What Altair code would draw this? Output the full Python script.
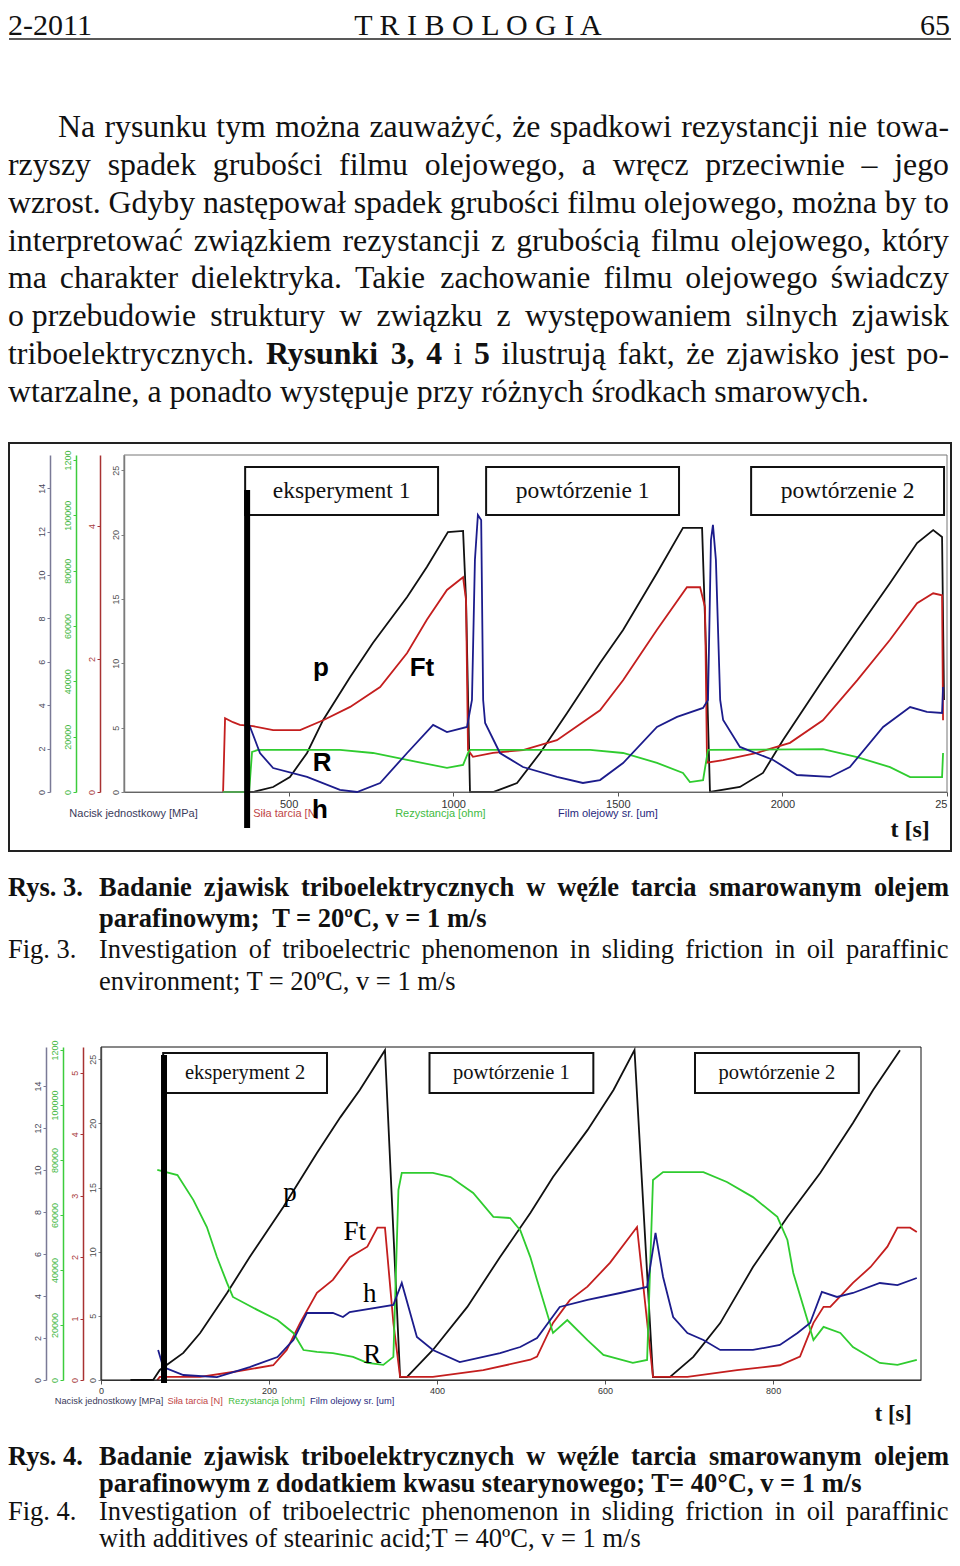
import altair as alt
import pandas as pd

# ------------------------------------------------------------------ page text
HEADER = ["2-2011", "T R I B O L O G I A", "65"]

PARAGRAPH = [
    "Na rysunku tym można zauważyć, że spadkowi rezystancji nie towa-",
    "rzyszy spadek grubości filmu olejowego, a wręcz przeciwnie – jego",
    "wzrost. Gdyby następował spadek grubości filmu olejowego, można by to",
    "interpretować związkiem rezystancji z grubością filmu olejowego, który",
    "ma charakter dielektryka. Takie zachowanie filmu olejowego świadczy",
    "o\u00a0przebudowie struktury w związku z występowaniem silnych zjawisk",
    "triboelektrycznych. **Rysunki 3, 4** i **5** ilustrują fakt, że zjawisko jest po-",
    "wtarzalne, a ponadto występuje przy różnych środkach smarowych.",
]

CAPTION3_LABELS = ["Rys. 3.", "Fig. 3."]
CAPTION3_PL = ["Badanie zjawisk triboelektrycznych w węźle tarcia smarowanym olejem",
               "parafinowym;\u00a0 T = 20ºC, v = 1 m/s"]
CAPTION3_EN = ["Investigation of triboelectric phenomenon in sliding friction in oil paraffinic",
               "environment; T = 20ºC, v = 1 m/s"]
CAPTION4_LABELS = ["Rys. 4.", "Fig. 4."]
CAPTION4_PL = ["Badanie zjawisk triboelektrycznych w węźle tarcia smarowanym olejem",
               "parafinowym z dodatkiem kwasu stearynowego; T= 40°C, v = 1 m/s"]
CAPTION4_EN = ["Investigation of triboelectric phenomenon in sliding friction in oil paraffinic",
               "with additives of stearinic acid;T = 40ºC, v = 1 m/s"]

AXIS_TITLES = ["Nacisk jednostkowy [MPa]", "Siła tarcia [N]", "Rezystancja [ohm]", "Film olejowy sr. [um]"]

# ------------------------------------------------------------------ Rys. 3 data
C1_P_T = [322, 392, 453, 504, 556, 605, 687, 756, 860, 920, 984, 1030, 1039, 1051, 1121, 1194, 1264,
          1346, 1446, 1516, 1619, 1698, 1756, 1768, 1780, 1871, 1941, 2002, 2123, 2227, 2327, 2409,
          2458, 2485, 2491]
C1_P = [0, 0, 0.23, 0.69, 1.80, 3.32, 5.30, 6.87, 8.99, 10.37, 11.98, 12.03, 8.85, 0, 0, 0.41, 1.80,
        3.64, 5.94, 7.47, 10.09, 12.17, 12.17, 6.54, 0, 0.23, 0.88, 2.40, 5.16, 7.47, 9.63, 11.47,
        12.07, 11.75, 4.24]
C1_FT_T = [301, 307, 331, 352, 392, 453, 535, 605, 687, 778, 860, 920, 981, 1030, 1039, 1045, 1060,
           1121, 1212, 1315, 1446, 1516, 1619, 1710, 1750, 1765, 1771, 1820, 1923, 2023, 2123, 2227,
           2327, 2409, 2458, 2485, 2488]
C1_FT = [0, 1.11, 1.05, 1.01, 0.99, 0.93, 0.93, 1.08, 1.28, 1.58, 2.09, 2.59, 3.04, 3.23, 2.89, 0.63,
         0.53, 0.59, 0.63, 0.78, 1.23, 1.68, 2.44, 3.08, 3.08, 2.78, 0.44, 0.48, 0.59, 0.74, 1.08, 1.68,
         2.29, 2.84, 2.99, 2.96, 1.08]
C1_R_T = [301, 380, 389, 407, 656, 756, 860, 981, 1030, 1045, 1051, 1416, 1516, 1619, 1698, 1719,
          1759, 1774, 2123, 2227, 2327, 2388, 2485, 2488]
C1_R = [0, 0, 14500, 15200, 15200, 14100, 11600, 8700, 9800, 14100, 15200, 15200, 14100, 10500, 6900,
        3600, 4300, 15200, 15500, 12600, 9000, 5400, 5400, 14100]
C1_H_T = [377, 383, 413, 453, 556, 656, 708, 778, 860, 939, 981, 1042, 1057, 1066, 1075, 1085, 1091,
          1097, 1142, 1212, 1315, 1394, 1446, 1516, 1619, 1680, 1759, 1774, 1783, 1789, 1798, 1811,
          1820, 1871, 1972, 2044, 2145, 2205, 2306, 2388, 2439, 2485, 2488]
C1_H = [5.44, 5.05, 3.03, 1.86, 1.17, 0.16, 0, 0.70, 3.03, 5.21, 4.66, 5.05, 7.15, 18.03, 21.52, 21.13,
        7.15, 5.36, 3.03, 1.94, 1.17, 0.70, 0.93, 2.25, 5.05, 5.83, 6.53, 7.15, 19.58, 20.75, 18.03,
        7.15, 5.59, 3.50, 2.49, 1.32, 1.17, 1.94, 5.05, 6.60, 6.22, 6.14, 8.16]
C1_SEGMENTS = ["eksperyment 1", "powtórzenie 1", "powtórzenie 2"]
C1_SEG_T0 = [368, 1100, 1905]
C1_SEG_T1 = [954, 1686, 2491]
C1_SEG_H = [21.52, 25.25]
C1_MARK = [374, 23.47, -2.80]
C1_LABELS = ["p", "Ft", "R", "h"]
C1_LABEL_T = [598, 905, 602, 595]
C1_LABEL_H = [9.63, 9.63, 2.25, -1.40]
C1_TITLE_T = [29, 492, 961, 1470]
C1_TITLE_H = -1.71
C1_TS = [2388, -2.95]

# ------------------------------------------------------------------ Rys. 4 data
C2_P_T = [35, 62, 70, 98, 118, 150, 177, 217, 257, 285, 308, 338, 356, 364, 395, 436, 475, 511, 538,
          579, 610, 635, 657, 677, 705, 737, 776, 817, 856, 895, 919, 951]
C2_P = [0, 0, 0.48, 1.29, 2.24, 4.14, 5.86, 8.24, 10.81, 12.52, 13.81, 15.71, 0.14, 0.14, 1.43, 3.48,
        5.86, 7.95, 9.67, 11.90, 13.81, 15.71, 0.14, 0.14, 1.10, 2.71, 5.38, 7.76, 9.86, 12.24, 13.81,
        15.71]
C2_FT_T = [67, 70, 118, 157, 205, 221, 237, 257, 276, 296, 317, 329, 338, 348, 356, 395, 455, 511, 519,
           538, 558, 579, 606, 638, 657, 698, 757, 808, 832, 848, 860, 868, 895, 916, 936, 948, 963, 971]
C2_FT = [0, 0.05, 0.05, 0.13, 0.24, 0.49, 0.93, 1.42, 1.63, 2.00, 2.17, 2.48, 2.48, 0.93, 0.05, 0.05,
         0.16, 0.33, 0.38, 0.93, 1.30, 1.52, 1.91, 2.49, 0.05, 0.05, 0.16, 0.24, 0.38, 0.93, 1.19, 1.19,
         1.58, 1.84, 2.17, 2.48, 2.48, 2.41]
C2_R_T = [67, 91, 110, 126, 138, 150, 157, 186, 210, 229, 241, 257, 276, 300, 317, 336, 348, 354, 358,
          395, 416, 443, 467, 487, 499, 511, 519, 538, 555, 579, 598, 633, 650, 657, 669, 717, 745, 776,
          805, 817, 824, 848, 860, 880, 895, 927, 948, 971]
C2_R = [76400, 74500, 65400, 55600, 44700, 35300, 30200, 25500, 21800, 17100, 10900, 10200, 9800, 8400,
        6200, 5500, 8400, 69100, 75300, 75300, 73800, 68000, 59300, 58900, 54500, 44700, 36400, 17100,
        21800, 14500, 9100, 6200, 7300, 72700, 75600, 75600, 72000, 66500, 59300, 50900, 38900, 14500,
        19300, 17100, 12000, 6200, 5500, 7300]
C2_H_T = [68, 74, 98, 138, 177, 210, 229, 245, 276, 288, 296, 348, 358, 376, 395, 427, 475, 499, 519,
          546, 579, 618, 650, 660, 669, 681, 698, 717, 737, 776, 808, 829, 844, 858, 876, 895, 927, 948,
          971]
C2_H = [2.34, 1.01, 0.39, 0.23, 1.01, 1.79, 3.12, 5.22, 5.22, 4.91, 5.30, 5.85, 7.56, 3.35, 2.34, 1.40,
        2.10, 2.57, 3.27, 5.69, 6.24, 6.78, 7.25, 11.46, 8.03, 4.91, 3.66, 3.12, 2.34, 2.34, 2.73, 3.66,
        4.44, 6.86, 6.47, 6.78, 7.56, 7.40, 7.95]
C2_SEGMENTS = ["eksperyment 2", "powtórzenie 1", "powtórzenie 2"]
C2_SEG_T0 = [74, 391, 707]
C2_SEG_T1 = [269, 586, 902]
C2_SEG_H = [22.37, 25.49]
C2_MARK = [75, 25.33, -0.23]
C2_LABELS = ["p", "Ft", "h", "R"]
C2_LABEL_T = [225, 302, 320, 323]
C2_LABEL_H = [14.58, 11.54, 6.70, 1.95]
C2_TITLE_T = [9.5, 112, 197, 299]
C2_TITLE_H = -1.64
C2_TS = [943, -2.65]

P_TICKS = [0, 2, 4, 6, 8, 10, 12, 14]
R_TICKS = [0, 20000, 40000, 60000, 80000, 100000, 120000]
H_TICKS = [0, 5, 10, 15, 20, 25]

# ------------------------------------------------------------------ styles
COL_P, COL_FT, COL_R, COL_H = "#111111", "#c41e1e", "#2fcc2f", "#1c1c8c"
TITLE_COLORS = ["#3a3a5a", "#c04646", "#3fbb3f", "#28287c"]
SERIF, SANS = "Liberation Serif", "Liberation Sans"


def _table(groups):
    d = {}
    for chars, w in groups:
        for ch in chars:
            d[ch] = w
    return d


SERIF_REG = _table([(" ,.\u00a0", 250), ("ijlt:;/ł", 278), ("fr-()[]I", 333), ("sśJ", 389),
                    ("aąceęćzźż", 444), ("bdghknńoópquvxy0123456789–", 500), ("=", 564),
                    ("FPSŚ", 556), ("ELTZŻ", 611), ("BCR", 667), ("wADGHKNOQUVXY", 722),
                    ("m", 778), ("M", 889), ("W", 944), ("º", 310), ("°", 400)])
SERIF_BOLD = _table([(" ,.\u00a0", 250), ("ilł", 278), ("jtfI-:;()[]", 333), ("sś", 389),
                     ("ceęćrzźż", 444), ("aąoógvxy0123456789", 500), ("bdhknńpqu", 556),
                     ("=", 570), ("FPS", 611), ("BTZ", 667), ("wCDNRAUVXY", 722), ("GHOK", 778),
                     ("m", 833), ("M", 944), ("º", 330), ("°", 400)])


def tw(s, size, bold):
    tbl = SERIF_BOLD if bold else SERIF_REG
    return sum(tbl.get(ch, 500) for ch in s) * size / 1000.0


def tokens(text, bold):
    out, state = [], bold
    for raw in text.split(" "):
        w = raw
        if w.startswith("**"):
            w, state = w[2:], True
        end = w.endswith("**")
        if end:
            w = w[:-2]
        out.append((w, state))
        if end:
            state = bold
    return out


def set_line(recs, text, row, x0, x1, size, bold=False, justify=True):
    toks = tokens(text, bold)
    if not justify or len(toks) < 2:
        recs.append({"text": text.replace("**", ""), "x": x0, "row": row, "bold": bold})
        return
    widths = [tw(w, size, b) for w, b in toks]
    gap = (x1 - x0 - sum(widths)) / (len(toks) - 1)
    gap = max(gap, 0.5 * tw(" ", size, False))
    x = x0
    for (w, b), wd in zip(toks, widths):
        recs.append({"text": w, "x": round(x, 2), "row": row, "bold": b})
        x += wd + gap


def text_layers(recs, size, first, last, nrows):
    df = pd.DataFrame(recs)
    ysc = alt.Scale(domain=[0, nrows - 1], range=[first, last], nice=False)
    base = alt.Chart(df).encode(
        x=alt.X("x:Q", scale=None, axis=None),
        y=alt.Y("row:Q", scale=ysc, axis=None),
        text="text:N")
    common = dict(align="left", baseline="alphabetic", font=SERIF, fontSize=size, color="#111111")
    return [base.transform_filter("!datum.bold").mark_text(**common),
            base.transform_filter("datum.bold").mark_text(fontWeight="bold", **common)]


def fixed_text(s, x, y, align, size):
    return alt.Chart(pd.DataFrame({"s": [s]})).mark_text(
        align=align, baseline="alphabetic", font=SERIF, fontSize=size, color="#111111"
    ).encode(text="s:N", x=alt.value(x), y=alt.value(y))


def yaxis(offset, values, line_c, lab_c, expr=None):
    kw = dict(orient="left", offset=offset, values=values, title=None, grid=False, format="d",
              labelAngle=270, labelAlign="center", labelBaseline="bottom",
              tickSize=3, labelPadding=1, labelFont=SANS, labelFontSize=9,
              labelColor=lab_c, domainColor=line_c, tickColor=line_c, domainWidth=1.5,
              labelOverlap=False)
    if expr:
        kw["labelExpr"] = expr
    return alt.Axis(**kw)


ONE = pd.DataFrame({"k": [0]})


def plot_block(cfg):
    xs = alt.Scale(domain=cfg["t_dom"], range=cfg["x_rng"], nice=False)

    def ys(dom):
        return alt.Scale(domain=dom, range=cfg["y_rng"], nice=False)

    ys_h, ys_ft, ys_r, ys_p = ys(cfg["h_dom"]), ys(cfg["ft_dom"]), ys(cfg["r_dom"]), ys(cfg["p_dom"])
    off = cfg["offsets"]
    xaxis = alt.Axis(orient="bottom", offset=cfg["x_offset"], values=cfg["x_vals"], format="d",
                     title=None, grid=False, tickSize=4, labelPadding=2, labelFont=SANS,
                     labelFontSize=cfg["x_font"], labelColor="#333333", domainColor="#555555",
                     tickColor="#555555", labelFlush=cfg["flush"], labelExpr=cfg["x_expr"])
    yax_h = yaxis(off[0], H_TICKS, "#808080", "#505050")

    def line(t, v, color, yscale, yax):
        df = pd.DataFrame({"t": t, "v": v})
        return alt.Chart(df).mark_line(color=color, strokeWidth=1.8).encode(
            x=alt.X("t:Q", scale=xs, axis=xaxis),
            y=alt.Y("v:Q", scale=yscale, axis=yax))

    d = cfg["data"]
    p_line = line(d["p"][0], d["p"][1], COL_P, ys_p, yaxis(off[3], P_TICKS, "#7a7a96", "#4a4a5a"))
    ft_line = line(d["ft"][0], d["ft"][1], COL_FT, ys_ft, yaxis(off[1], cfg["ft_ticks"], "#a83232", "#a83c3c"))
    r_line = line(d["r"][0], d["r"][1], COL_R, ys_r,
                  yaxis(off[2], R_TICKS, "#3ccc3c", "#44b844", "datum.value == 120000 ? '1200' : datum.label"))
    h_line = line(d["h"][0], d["h"][1], COL_H, ys_h, yax_h)

    X = lambda f: alt.X(f, scale=xs, axis=xaxis)
    Y = lambda f: alt.Y(f, scale=ys_h, axis=yax_h)

    bdf = pd.DataFrame({"t0": [cfg["t_dom"][0]], "t1": [cfg["t_dom"][1]],
                        "v0": [cfg["h_dom"][0]], "v1": [cfg["h_dom"][1]]})
    border = alt.Chart(bdf).mark_rect(fillOpacity=0, stroke=cfg["border"], strokeWidth=1).encode(
        x=X("t0:Q"), x2="t1:Q", y=Y("v0:Q"), y2="v1:Q")

    seg_t0, seg_t1, seg_h = cfg["seg_t0"], cfg["seg_t1"], cfg["seg_h"]
    box_df = pd.DataFrame({"label": cfg["segments"], "t0": seg_t0, "t1": seg_t1,
                           "v0": [seg_h[0]] * 3, "v1": [seg_h[1]] * 3})
    box_df["tc"] = (box_df["t0"] + box_df["t1"]) / 2
    box_df["vc"] = (box_df["v0"] + box_df["v1"]) / 2
    boxes = alt.Chart(box_df).mark_rect(fill="white", stroke="#111111", strokeWidth=2).encode(
        x=X("t0:Q"), x2="t1:Q", y=Y("v0:Q"), y2="v1:Q")
    box_txt = alt.Chart(box_df).mark_text(font=SERIF, fontSize=cfg["box_font"], color="#111111",
                                          baseline="middle").encode(
        x=X("tc:Q"), y=Y("vc:Q"), text="label:N")

    mk = cfg["mark"]
    mdf = pd.DataFrame({"t": [mk[0]], "v0": [mk[1]], "v1": [mk[2]]})
    marker = alt.Chart(mdf).mark_rule(color="#000000", strokeWidth=6).encode(
        x=X("t:Q"), y=Y("v0:Q"), y2="v1:Q")

    ldf = pd.DataFrame({"s": cfg["labels"], "t": cfg["label_t"], "v": cfg["label_h"]})
    lab = alt.Chart(ldf).mark_text(font=cfg["label_font"], fontWeight=cfg["label_weight"],
                                   fontSize=cfg["label_size"], color="#000000", baseline="middle").encode(
        x=X("t:Q"), y=Y("v:Q"), text="s:N")

    tdf = pd.DataFrame({"s": AXIS_TITLES, "t": cfg["title_t"], "v": [cfg["title_h"]] * 4})
    titles = alt.Chart(tdf).mark_text(font=SANS, fontSize=cfg["title_font"], baseline="middle").encode(
        x=X("t:Q"), y=Y("v:Q"), text="s:N",
        color=alt.Color("s:N", scale=alt.Scale(domain=AXIS_TITLES, range=TITLE_COLORS), legend=None))

    tsdf = pd.DataFrame({"s": ["t [s]"], "t": [cfg["ts"][0]], "v": [cfg["ts"][1]]})
    tsl = alt.Chart(tsdf).mark_text(font=SERIF, fontWeight="bold", fontSize=cfg["ts_font"],
                                    color="#111111", baseline="middle").encode(
        x=X("t:Q"), y=Y("v:Q"), text="s:N")

    parts = [border, h_line, boxes, box_txt, marker, titles, lab, tsl]
    if cfg["frame"]:
        fr = cfg["frame"]
        parts.append(alt.Chart(ONE).mark_rect(fillOpacity=0, stroke="#222222", strokeWidth=2).encode(
            x=alt.value(fr[0]), x2=alt.value(fr[1]), y=alt.value(fr[2]), y2=alt.value(fr[3])))
    main = alt.layer(*parts)
    return alt.layer(p_line, ft_line, r_line, main).resolve_scale(y="independent").properties(
        width=944, height=cfg["height"])


# ------------------------------------------------------------------ components
W = 944
para = []
for i, ln in enumerate(PARAGRAPH):
    set_line(para, ln, i, 50 if i == 0 else 0, 941, 31.8, justify=i < len(PARAGRAPH) - 1)
rule = alt.Chart(ONE).mark_rule(color="#222222", strokeWidth=1.5).encode(
    x=alt.value(1), x2=alt.value(943), y=alt.value(31))
comp_a = alt.layer(
    fixed_text(HEADER[0], 0, 27, "left", 30),
    fixed_text(HEADER[1], 470, 27, "center", 30),
    fixed_text(HEADER[2], 942, 27, "right", 30),
    rule,
    *text_layers(para, 31.8, 129, 394, len(PARAGRAPH)),
).properties(width=W, height=434)

chart3 = plot_block(dict(
    t_dom=[0, 2500], x_rng=[116, 939], y_rng=[350, 13], height=410,
    h_dom=[0, 26.18], ft_dom=[0, 5.07], r_dom=[0, 121800], p_dom=[0, 15.53],
    offsets=[-116, -92, -68, -42], ft_ticks=[0, 2, 4],
    x_offset=-60, x_vals=[500, 1000, 1500, 2000, 2500], x_font=11, flush=True,
    x_expr="datum.value == 2500 ? '25' : datum.label",
    data={"p": (C1_P_T, C1_P), "ft": (C1_FT_T, C1_FT), "r": (C1_R_T, C1_R), "h": (C1_H_T, C1_H)},
    segments=C1_SEGMENTS, seg_t0=C1_SEG_T0, seg_t1=C1_SEG_T1, seg_h=C1_SEG_H, box_font=23.5,
    mark=C1_MARK, labels=C1_LABELS, label_t=C1_LABEL_T, label_h=C1_LABEL_H,
    label_font=SANS, label_weight="bold", label_size=26,
    title_t=C1_TITLE_T, title_h=C1_TITLE_H, title_font=11,
    ts=C1_TS, ts_font=24, border="#777777", frame=[1, 943, 1, 409],
))

cap3 = [{"text": CAPTION3_LABELS[0], "x": 0, "row": 0, "bold": True}]
set_line(cap3, CAPTION3_PL[0], 0, 91, 941, 26.5, bold=True)
set_line(cap3, CAPTION3_PL[1], 1, 91, 941, 26.5, bold=True, justify=False)
cap3.append({"text": CAPTION3_LABELS[1], "x": 0, "row": 2, "bold": False})
set_line(cap3, CAPTION3_EN[0], 2, 91, 941, 26.5)
set_line(cap3, CAPTION3_EN[1], 3, 91, 941, 26.5, justify=False)
comp_d = alt.layer(*text_layers(cap3, 26.5, 43.5, 137.5, 4)).properties(width=W, height=178)

chart4 = plot_block(dict(
    t_dom=[0, 976], x_rng=[93, 913], y_rng=[350, 17], height=402,
    h_dom=[0, 25.95], ft_dom=[0, 5.42], r_dom=[0, 121080], p_dom=[0, 15.86],
    offsets=[-93, -75, -55, -38], ft_ticks=[0, 1, 2, 3, 4, 5],
    x_offset=-52, x_vals=[0, 200, 400, 600, 800], x_font=9, flush=False,
    x_expr="datum.label",
    data={"p": (C2_P_T, C2_P), "ft": (C2_FT_T, C2_FT), "r": (C2_R_T, C2_R), "h": (C2_H_T, C2_H)},
    segments=C2_SEGMENTS, seg_t0=C2_SEG_T0, seg_t1=C2_SEG_T1, seg_h=C2_SEG_H, box_font=20.5,
    mark=C2_MARK, labels=C2_LABELS, label_t=C2_LABEL_T, label_h=C2_LABEL_H,
    label_font=SERIF, label_weight="normal", label_size=27,
    title_t=C2_TITLE_T, title_h=C2_TITLE_H, title_font=9.3,
    ts=C2_TS, ts_font=22.5, border="#111111", frame=None,
))

cap4 = [{"text": CAPTION4_LABELS[0], "x": 0, "row": 0, "bold": True}]
set_line(cap4, CAPTION4_PL[0], 0, 91, 941, 26.5, bold=True)
set_line(cap4, CAPTION4_PL[1], 1, 91, 941, 26.5, bold=True, justify=False)
cap4.append({"text": CAPTION4_LABELS[1], "x": 0, "row": 2, "bold": False})
set_line(cap4, CAPTION4_EN[0], 2, 91, 941, 26.5)
set_line(cap4, CAPTION4_EN[1], 3, 91, 941, 26.5, justify=False)
comp_f = alt.layer(*text_layers(cap4, 26.5, 33, 115, 4)).properties(width=W, height=121)

chart = alt.vconcat(comp_a, chart3, comp_d, chart4, comp_f, spacing=0).properties(
    padding=0).configure_view(strokeWidth=0)

chart.save("out.html", embed_options={"renderer": "svg", "actions": False})
